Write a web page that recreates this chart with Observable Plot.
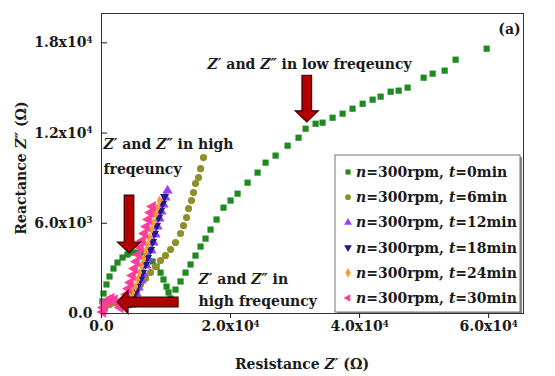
<!DOCTYPE html>
<html><head><meta charset="utf-8">
<script src="https://cdn.jsdelivr.net/npm/d3@7"></script>
<script src="https://cdn.jsdelivr.net/npm/@observablehq/plot@0.6"></script>
<style>html,body{margin:0;padding:0;background:#fff}#chart{width:555px;height:376px}</style>
</head><body><div id="chart"></div>
<script>
// ---------- data ----------
const seriesNames = ["t0", "t6", "t12", "t18", "t24", "t30"];
const legendLabels = [
  "_n_=300rpm, _t_=0min", "_n_=300rpm, _t_=6min", "_n_=300rpm, _t_=12min",
  "_n_=300rpm, _t_=18min", "_n_=300rpm, _t_=24min", "_n_=300rpm, _t_=30min"
];
// [Z' (Ω), Z'' (Ω)]
const zT0 = [[150,800],[310,1330],[775,1930],[1240,2460],[1860,2990],[2480,3390],[3260,3720],[4030,3920],[4810,4050],[5580,4050],[6360,3990],[7130,3790],[7910,3460],[8530,3120],[9150,2720],[9610,2260],[10080,1790],[10390,1400],[10700,1000],[11470,1590],[12250,2130],[13020,2720],[13800,3260],[14570,3850],[15350,4450],[16120,4980],[16900,5580],[17830,6250],[18910,7040],[20000,7510],[21090,7970],[22640,8700],[24190,9370],[25430,10030],[26980,10500],[28840,11160],[30540,11690],[31630,12290],[33180,12620],[34260,12690],[35810,13020],[37360,13290],[38910,13620],[40470,13950],[42020,14220],[43260,14420],[44810,14750],[46050,14820],[47440,15020],[49920,15680],[51320,15950],[53180,16150],[54880,16880],[59690,17610]];
const zT6 = [[500,300],[1300,600],[2200,700],[3100,500],[3880,530],[4340,800],[4810,1130],[5430,1530],[6050,1930],[6820,2330],[7600,2720],[8370,3120],[9150,3520],[9920,3850],[10700,4250],[11470,4720],[12250,5320],[12710,5850],[13180,6380],[13490,6980],[13950,7510],[14260,8040],[14570,8640],[15040,9040],[15350,9630],[15810,10370]];
const zT12 = [[4650,600],[4960,930],[5430,1330],[5740,1730],[6200,2190],[6510,2660],[6980,3190],[7290,3650],[7750,4190],[8060,4720],[8370,5250],[8680,5780],[8990,6310],[9300,6780],[9610,7240],[9920,7710],[10230,8170]];
const zT18 = [[4500,660],[4810,1000],[5270,1400],[5580,1790],[6050,2260],[6360,2720],[6820,3260],[7130,3720],[7600,4250],[7910,4780],[8220,5320],[8530,5850],[8840,6380],[9150,6840],[9460,7310],[9770,7770]];
const zT24 = [[4190,660],[4500,1000],[4810,1400],[5270,1790],[5580,2260],[5890,2720],[6200,3190],[6510,3650],[6820,4120],[7130,4580],[7440,5050],[7750,5580],[8060,6050],[8370,6580],[8680,7040],[8990,7510]];
const zT30 = [[200,100],[300,400],[600,700],[1000,900],[1500,1000],[2000,900],[2500,700],[2900,400],[3260,600],[3570,930],[3880,1260],[4190,1660],[4500,2060],[4810,2520],[5120,2990],[5430,3460],[5740,3920],[6050,4390],[6360,4850],[6670,5320],[6980,5780],[7290,6250],[7600,6710],[7910,7110]];
const seriesPoints = [zT0, zT6, zT12, zT18, zT24, zT30];

const xTicks = [0, 20000, 40000, 60000];
const xTickLabels = ["0.0", "2.0x10^4", "4.0x10^4", "6.0x10^4"];
const yTicks = [0, 6000, 12000, 18000];
const yTickLabels = ["0.0", "6.0x10^3", "1.2x10^4", "1.8x10^4"];

// annotations (data coordinates)
const noteText = ["_Z′_ and _Z″_ in low freqeuncy", "_Z′_ and _Z″_ in high", "freqeuncy", "_Z′_ and _Z″_ in", "high freqeuncy"];
const noteX = [16430, 310, 310, 15040, 15040];
const noteY = [16580, 11260, 9600, 2290, 830];
const arrowTail = [[31890, 15810], [4340, 7840], [11940, 730]];
const arrowTip  = [[31890, 12710], [4340, 3990], [2480, 730]];

// ---------- styles ----------
const colors = ["#1f8a1f", "#8f8f2a", "#9a3cff", "#1c1c8a", "#ff9a33", "#ff3d9a"];
const triDown = {draw(ctx, size) { const y = -Math.sqrt(size / (Math.sqrt(3) * 3)); ctx.moveTo(0, -2 * y); ctx.lineTo(-Math.sqrt(3) * y, y); ctx.lineTo(Math.sqrt(3) * y, y); ctx.closePath(); }};
const triLeft = {draw(ctx, size) { const y = -Math.sqrt(size / (Math.sqrt(3) * 3)); ctx.moveTo(2 * y, 0); ctx.lineTo(-y, -Math.sqrt(3) * y); ctx.lineTo(-y, Math.sqrt(3) * y); ctx.closePath(); }};
const symbols = ["square", "circle", "triangle", triDown, "diamond", triLeft];
const d3Symbols = [d3.symbolSquare, d3.symbolCircle, d3.symbolTriangle, triDown, d3.symbolDiamond, triLeft];
const radii = [3.5, 3.6, 3.8, 3.4, 3.0, 4.2];

const rows = seriesNames.flatMap((s, i) => seriesPoints[i].map(([x, y]) => ({series: s, x, y})));
const notes = noteText.map((t, i) => ({text: t, x: noteX[i], y: noteY[i]}));

function addRich(sel, str) {
  const parts = str.split(/(_[^_]+_|\^[0-9]+)/).filter(p => p !== "");
  let raised = false;
  for (const p of parts) {
    if (p[0] === "^") {
      sel.append("tspan").attr("font-size", "0.62em").attr("dy", "-0.55em").text(p.slice(1));
      raised = true;
    } else {
      const t = sel.append("tspan");
      if (raised) { t.attr("dy", "0.55em"); raised = false; }
      if (p.length > 2 && p[0] === "_" && p[p.length - 1] === "_") t.attr("font-style", "italic").text(p.slice(1, -1));
      else t.text(p);
    }
  }
}

function blockArrows(index, scales) {
  const g = d3.create("svg:g");
  arrowTail.forEach((tail, i) => {
    const tip = arrowTip[i];
    const x1 = scales.x(tail[0]), y1 = scales.y(tail[1]), x2 = scales.x(tip[0]), y2 = scales.y(tip[1]);
    const L = Math.hypot(x2 - x1, y2 - y1), ux = (x2 - x1) / L, uy = (y2 - y1) / L, px = -uy, py = ux;
    const sw = 4.8, hw = 11.5, hl = 11;
    const bx = x2 - ux * hl, by = y2 - uy * hl;
    const pts = [[x1 + px * sw, y1 + py * sw], [bx + px * sw, by + py * sw], [bx + px * hw, by + py * hw], [x2, y2],
                 [bx - px * hw, by - py * hw], [bx - px * sw, by - py * sw], [x1 - px * sw, y1 - py * sw]];
    g.append("path").attr("d", "M" + pts.map(p => p.join(",")).join("L") + "Z")
      .attr("fill", "#b00000").attr("stroke", "#3a0000").attr("stroke-width", 1.2);
  });
  return g.node();
}

function legendMark(index, scales, values, dims) {
  const g = d3.create("svg:g");
  const right = dims.width - dims.marginRight;
  const bottom = dims.height - dims.marginBottom;
  const x0 = right - 188, y0 = bottom - 158, w = 185, h = 157;
  g.append("rect").attr("x", x0 + 2).attr("y", y0 + 2).attr("width", w).attr("height", h).attr("fill", "#8a8a8a");
  g.append("rect").attr("x", x0).attr("y", y0).attr("width", w).attr("height", h).attr("fill", "#fff").attr("stroke", "#777").attr("stroke-width", 1);
  seriesNames.forEach((s, i) => {
    const cy = y0 + 17 + i * 25.2;
    g.append("path").attr("transform", `translate(${x0 + 13},${cy})`)
      .attr("d", d3.symbol(d3Symbols[i], 26)()).attr("fill", colors[i]);
    const t = g.append("text").attr("x", x0 + 21).attr("y", cy).attr("dy", "0.36em")
      .attr("text-anchor", "start").attr("font-size", 14).attr("fill", "#1a1a1a");
    addRich(t, legendLabels[i]);
  });
  return g.node();
}

function titles(index, scales, values, dims) {
  const g = d3.create("svg:g").attr("fill", "#1a1a1a").attr("font-size", 14);
  const cx = (dims.marginLeft + dims.width - dims.marginRight) / 2 - 10;
  addRich(g.append("text").attr("x", cx).attr("y", dims.height - 7).attr("text-anchor", "middle"), "Resistance _Z′_ (Ω)");
  const cy = (dims.marginTop + dims.height - dims.marginBottom) / 2 + 5;
  addRich(g.append("text").attr("transform", `translate(26,${cy}) rotate(-90)`).attr("text-anchor", "middle"), "Reactance _Z″_ (Ω)");
  return g.node();
}

const chart = Plot.plot({
  width: 555, height: 376,
  marginLeft: 101, marginRight: 32, marginTop: 13, marginBottom: 63,
  x: {domain: [0, 65400]},
  y: {domain: [0, 19950]},
  style: {fontFamily: "'DejaVu Serif', serif", fontWeight: "bold", fontSize: "14px", color: "#1a1a1a", background: "#fff", overflow: "visible"},
  marks: [
    ...seriesNames.map((s, i) => Plot.dot(rows.filter(d => d.series === s), {
      x: "x", y: "y", symbol: symbols[i], r: radii[i], fill: colors[i], stroke: "none"
    })),
    blockArrows,
    Plot.text(notes, {x: "x", y: "y", text: "text", textAnchor: "start", lineAnchor: "middle", fontSize: 14, fill: "#1a1a1a"}),
    Plot.text(["(a)"], {x: [64960], y: [18870], text: d => d, textAnchor: "end", lineAnchor: "middle", fontSize: 14, fill: "#1a1a1a"}),
    legendMark,
    Plot.frame({stroke: "#333", strokeWidth: 1}),
    Plot.axisX(xTicks, {tickFormat: d => xTickLabels[xTicks.indexOf(d)], tickSize: 5, tickPadding: 3, label: null, fontSize: 14}),
    Plot.axisY(yTicks, {tickFormat: d => yTickLabels[yTicks.indexOf(d)], tickSize: -6, tickPadding: 15, label: null, fontSize: 14}),
    titles
  ]
});

d3.select(chart).selectAll("text").each(function () {
  const s = this.textContent;
  if (this.childElementCount === 0 && /_|\^/.test(s)) {
    this.textContent = "";
    addRich(d3.select(this), s);
  }
});
document.getElementById("chart").appendChild(chart);
</script></body></html>
